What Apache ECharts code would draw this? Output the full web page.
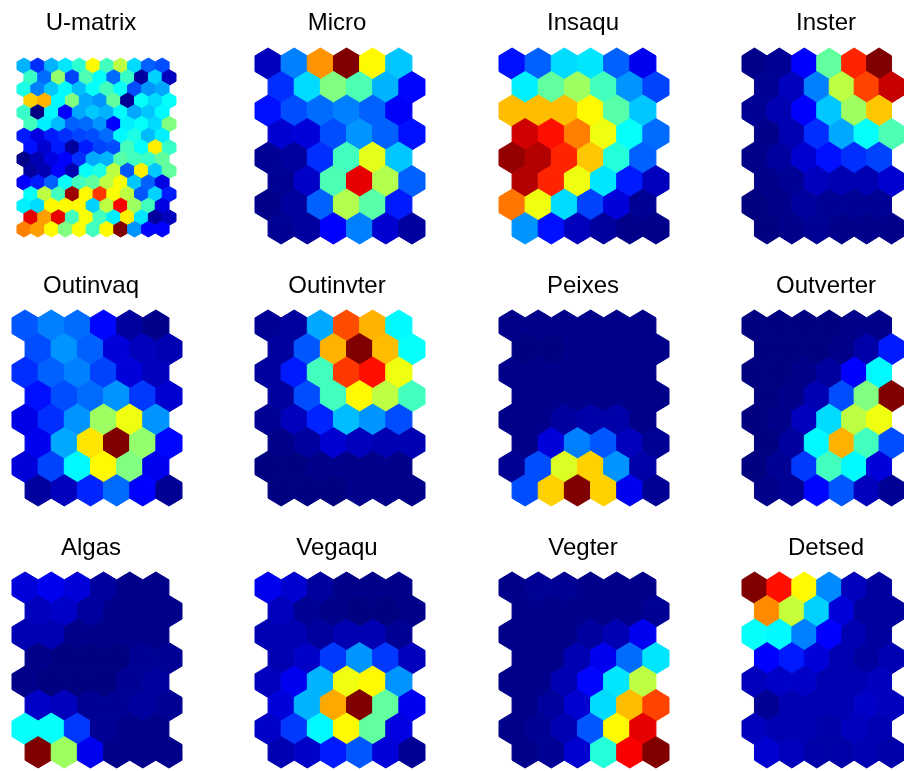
<!DOCTYPE html>
<html>
<head>
<meta charset="utf-8">
<script src="https://cdn.jsdelivr.net/npm/echarts@6/dist/echarts.min.js"></script>
<style>
  html, body { margin: 0; padding: 0; background: #fff; }
  #chart { width: 904px; height: 771px; }
</style>
</head>
<body>
<div id="chart"></div>
<script>
// panel names, in reading order
var names = ['U-matrix', 'Micro', 'Insaqu', 'Inster',
             'Outinvaq', 'Outinvter', 'Peixes', 'Outverter',
             'Algas', 'Vegaqu', 'Vegter', 'Detsed'];

// values normalised 0..1 (jet scale), rows from top, odd rows shifted right
var umatrix = [
  [0.30,0.17,0.30,0.35,0.42,0.63,0.44,0.56,0.34,0.22,0.20],
  [0.43,0.23,0.52,0.19,0.45,0.38,0.23,0.43,0.03,0.33,0.06],
  [0.40,0.25,0.32,0.37,0.31,0.38,0.44,0.38,0.20,0.27,0.29],
  [0.67,0.70,0.37,0.50,0.29,0.27,0.47,0.02,0.38,0.34,0.38],
  [0.43,0.00,0.37,0.125,0.29,0.32,0.30,0.37,0.29,0.32,0.37],
  [0.44,0.36,0.31,0.22,0.23,0.27,0.125,0.36,0.38,0.34,0.50],
  [0.15,0.094,0.15,0.17,0.19,0.20,0.23,0.37,0.40,0.31,0.36],
  [0.14,0.08,0.15,0.03,0.15,0.19,0.20,0.44,0.38,0.64,0.43],
  [0.01,0.05,0.094,0.125,0.17,0.29,0.30,0.46,0.44,0.43,0.47],
  [0.03,0.05,0.125,0.05,0.38,0.40,0.56,0.21,0.64,0.32,0.47],
  [0.125,0.15,0.22,0.38,0.44,0.47,0.56,0.62,0.32,0.22,0.094],
  [0.38,0.56,0.44,0.97,0.63,0.82,0.62,0.56,0.21,0.33,0.15],
  [0.36,0.34,0.63,0.63,0.63,0.33,0.56,0.88,0.53,0.44,0.094],
  [0.90,0.72,0.90,0.44,0.62,0.44,0.36,0.64,0.35,0.03,0.06],
  [0.75,0.72,0.63,0.50,0.62,0.44,0.63,1.00,0.27,0.125,0.125]
];
var micro = [
  [0.06,0.25,0.73,1.00,0.63,0.32],
  [0.17,0.34,0.50,0.45,0.30,0.13],
  [0.14,0.20,0.23,0.25,0.22,0.12],
  [0.08,0.09,0.20,0.27,0.22,0.14],
  [0.02,0.03,0.17,0.44,0.60,0.32],
  [0.02,0.07,0.45,0.90,0.55,0.22],
  [0.01,0.03,0.22,0.55,0.46,0.15],
  [0.02,0.03,0.125,0.25,0.08,0.03]
];
var insaqu = [
  [0.14,0.22,0.34,0.35,0.22,0.11],
  [0.36,0.47,0.53,0.44,0.27,0.19],
  [0.69,0.69,0.69,0.63,0.46,0.32],
  [0.92,0.86,0.75,0.61,0.38,0.23],
  [0.98,0.95,0.84,0.68,0.41,0.22],
  [0.95,0.84,0.61,0.35,0.15,0.06],
  [0.76,0.61,0.34,0.19,0.09,0.02],
  [0.27,0.14,0.06,0.03,0.01,0.01]
];
var inster = [
  [0.01,0.02,0.125,0.47,0.84,1.00],
  [0.02,0.06,0.25,0.56,0.81,0.93],
  [0.02,0.05,0.125,0.32,0.53,0.68],
  [0.01,0.05,0.17,0.29,0.38,0.45],
  [0.01,0.03,0.08,0.14,0.17,0.19],
  [0.01,0.02,0.06,0.05,0.05,0.08],
  [0.00,0.01,0.03,0.02,0.02,0.02],
  [0.00,0.01,0.02,0.01,0.01,0.01]
];
var outinvaq = [
  [0.21,0.25,0.23,0.13,0.03,0.01],
  [0.20,0.27,0.22,0.09,0.06,0.05],
  [0.17,0.22,0.25,0.19,0.09,0.06],
  [0.14,0.20,0.23,0.27,0.18,0.08],
  [0.10,0.17,0.27,0.53,0.61,0.27],
  [0.11,0.29,0.65,1.00,0.52,0.13],
  [0.09,0.19,0.37,0.63,0.50,0.11],
  [0.03,0.06,0.16,0.23,0.125,0.02]
];
var outinvter = [
  [0.02,0.03,0.29,0.80,0.70,0.37],
  [0.03,0.21,0.70,1.00,0.69,0.38],
  [0.03,0.15,0.44,0.82,0.86,0.61],
  [0.03,0.20,0.44,0.63,0.56,0.44],
  [0.02,0.06,0.16,0.31,0.27,0.20],
  [0.01,0.03,0.08,0.06,0.05,0.05],
  [0.00,0.00,0.01,0.01,0.01,0.01],
  [0.00,0.00,0.00,0.01,0.01,0.01]
];
var peixes = [
  [0.01,0.01,0.01,0.01,0.01,0.01],
  [0.00,0.00,0.01,0.01,0.01,0.01],
  [0.01,0.01,0.01,0.01,0.01,0.01],
  [0.01,0.01,0.01,0.01,0.01,0.01],
  [0.01,0.01,0.03,0.04,0.04,0.01],
  [0.01,0.09,0.25,0.21,0.06,0.02],
  [0.02,0.20,0.59,0.67,0.27,0.04],
  [0.20,0.67,1.00,0.67,0.11,0.02]
];
var outverter = [
  [0.00,0.00,0.00,0.00,0.01,0.01],
  [0.00,0.00,0.00,0.01,0.04,0.15],
  [0.00,0.00,0.01,0.03,0.125,0.37],
  [0.00,0.01,0.05,0.20,0.50,1.00],
  [0.00,0.01,0.06,0.34,0.56,0.61],
  [0.00,0.03,0.37,0.70,0.44,0.20],
  [0.00,0.02,0.18,0.44,0.37,0.09],
  [0.01,0.02,0.13,0.21,0.06,0.02]
];
var algas = [
  [0.09,0.11,0.09,0.03,0.01,0.01],
  [0.06,0.07,0.03,0.01,0.01,0.01],
  [0.05,0.05,0.01,0.01,0.01,0.01],
  [0.01,0.00,0.00,0.00,0.02,0.02],
  [0.01,0.00,0.00,0.00,0.02,0.03],
  [0.07,0.06,0.02,0.02,0.03,0.02],
  [0.38,0.38,0.18,0.02,0.01,0.01],
  [1.00,0.53,0.11,0.01,0.01,0.01]
];
var vegaqu = [
  [0.11,0.08,0.03,0.01,0.01,0.01],
  [0.06,0.02,0.01,0.00,0.00,0.01],
  [0.05,0.05,0.03,0.05,0.05,0.02],
  [0.05,0.07,0.18,0.27,0.18,0.06],
  [0.06,0.11,0.30,0.61,0.63,0.27],
  [0.09,0.30,0.71,1.00,0.47,0.11],
  [0.07,0.18,0.37,0.63,0.47,0.094],
  [0.05,0.07,0.15,0.21,0.09,0.02]
];
var vegter = [
  [0.01,0.02,0.02,0.01,0.01,0.01],
  [0.01,0.01,0.01,0.01,0.01,0.02],
  [0.01,0.01,0.01,0.03,0.05,0.11],
  [0.01,0.01,0.05,0.11,0.23,0.35],
  [0.01,0.01,0.05,0.13,0.35,0.56],
  [0.01,0.03,0.08,0.34,0.69,0.81],
  [0.01,0.02,0.05,0.21,0.63,0.90],
  [0.01,0.02,0.08,0.41,0.88,1.00]
];
var detsed = [
  [1.00,0.86,0.63,0.26,0.06,0.03],
  [0.74,0.57,0.33,0.09,0.03,0.03],
  [0.38,0.37,0.25,0.125,0.05,0.03],
  [0.125,0.15,0.09,0.05,0.03,0.05],
  [0.06,0.07,0.07,0.05,0.05,0.06],
  [0.02,0.05,0.05,0.05,0.07,0.06],
  [0.06,0.05,0.05,0.04,0.06,0.05],
  [0.08,0.06,0.04,0.04,0.05,0.04]
];
var planes = [umatrix, micro, insaqu, inster, outinvaq, outinvter,
              peixes, outverter, algas, vegaqu, vegter, detsed];

// matlab jet
var jet = ['#000080', '#0000ff', '#0080ff', '#00ffff', '#80ff80',
           '#ffff00', '#ff8000', '#ff0000', '#800000'];

var colLeft = [12, 255, 499, 742];
var rowTop = [48, 310, 572];
var titleX = [91, 337, 583, 826];
var titleY = [23, 286, 548];
var R3 = Math.sqrt(0.75);

function hexData(m) {
  var out = [];
  m.forEach(function (row, r) {
    row.forEach(function (v, c) {
      out.push([c + (r % 2) * 0.5, r * R3, v]);
    });
  });
  return out;
}

function renderHex(params, api) {
  var cx = api.value(0), cy = api.value(1);
  var pts = [];
  for (var k = 0; k < 6; k++) {
    var a = k * Math.PI / 3;
    pts.push(api.coord([cx + Math.sin(a) / Math.sqrt(3), cy + Math.cos(a) / Math.sqrt(3)]));
  }
  var col = api.visual('color');
  return {
    type: 'polygon',
    shape: { points: pts },
    style: { fill: col, stroke: col, lineWidth: 1, lineJoin: 'miter' }
  };
}

var grids = [], xAxes = [], yAxes = [], series = [], texts = [];
planes.forEach(function (m, i) {
  var row = Math.floor(i / 4), col = i % 4;
  var nr = m.length, nc = m[0].length;
  if (i === 0) {
    grids.push({ left: 17, top: 58, width: 159, height: 179 });
  } else {
    grids.push({ left: colLeft[col], top: rowTop[row], width: 170, height: 196 });
  }
  xAxes.push({ type: 'value', gridIndex: i, min: -0.5, max: nc, show: false });
  yAxes.push({ type: 'value', gridIndex: i, min: -1 / Math.sqrt(3),
               max: (nr - 1) * R3 + 1 / Math.sqrt(3), inverse: true, show: false });
  series.push({
    type: 'custom',
    xAxisIndex: i,
    yAxisIndex: i,
    renderItem: renderHex,
    encode: { x: 0, y: 1 },
    data: hexData(m),
    silent: true
  });
  texts.push({
    type: 'text',
    x: titleX[col],
    y: titleY[row],
    style: {
      text: names[i],
      fill: '#000',
      font: '24px "Liberation Sans", Arial, sans-serif',
      align: 'center',
      verticalAlign: 'middle'
    }
  });
});

var myChart = echarts.init(document.getElementById('chart'));
myChart.setOption({
  backgroundColor: '#fff',
  animation: false,
  grid: grids,
  xAxis: xAxes,
  yAxis: yAxes,
  visualMap: {
    type: 'continuous',
    show: false,
    min: 0,
    max: 1,
    dimension: 2,
    seriesIndex: series.map(function (s, i) { return i; }),
    inRange: { color: jet }
  },
  graphic: texts,
  series: series
});
</script>
</body>
</html>
